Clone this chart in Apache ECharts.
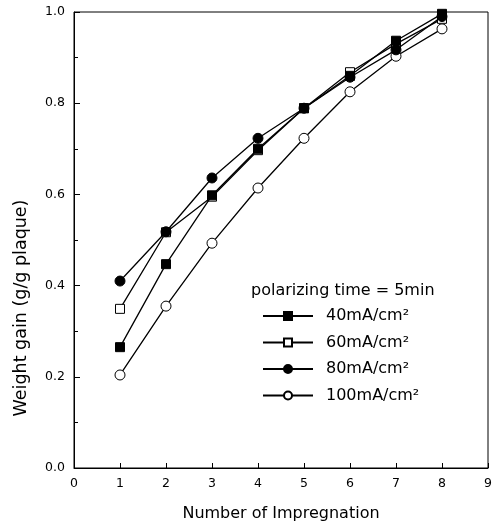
<!DOCTYPE html>
<html>
<head>
<meta charset="utf-8">
<script src="https://cdn.jsdelivr.net/npm/echarts@6/dist/echarts.min.js"></script>
<style>
  html, body { margin: 0; padding: 0; background: #fff; }
  #chart { width: 494px; height: 524px; }
</style>
</head>
<body>
<div id="chart"></div>
<script>
// impregnation count (x)
const impregnation = [1, 2, 3, 4, 5, 6, 7, 8];
// weight gain (g/g plaque) per current density
const gain40 = [0.265, 0.447, 0.598, 0.700, 0.789, 0.860, 0.937, 0.996];
const gain60 = [0.349, 0.517, 0.595, 0.697, 0.789, 0.868, 0.930, 0.985];
const gain80 = [0.410, 0.518, 0.636, 0.723, 0.789, 0.857, 0.917, 0.990];
const gain100 = [0.204, 0.355, 0.493, 0.614, 0.723, 0.825, 0.903, 0.963];
const seriesNames = ['40mA/cm²', '60mA/cm²', '80mA/cm²', '100mA/cm²'];

const font = 'DejaVu Sans, Liberation Sans, sans-serif';

function pairs(arr) {
  return impregnation.map((x, i) => [x, arr[i]]);
}

function makeSeries(name, data, symbol, filled) {
  return {
    name: name,
    type: 'line',
    data: pairs(data),
    symbol: symbol,
    symbolSize: symbol === 'rect' ? 9 : 10,
    showSymbol: true,
    lineStyle: { color: '#000', width: 1.3 },
    itemStyle: {
      color: filled ? '#000' : '#fff',
      borderColor: '#000',
      borderWidth: 1
    },
    emphasis: { disabled: true },
    z: filled ? 3 : 2
  };
}

let myChart = echarts.init(document.getElementById('chart'), null, { renderer: 'canvas' });

let option = {
  animation: false,
  textStyle: { fontFamily: font },
  title: {
    text: 'polarizing time = 5min',
    left: 246,
    top: 278,
    textStyle: { fontSize: 16, fontWeight: 'normal', color: '#000', fontFamily: font }
  },
  legend: {
    orient: 'vertical',
    left: 262,
    top: 308,
    padding: 0,
    itemWidth: 50,
    itemHeight: 10,
    itemGap: 10.5,
    textStyle: { fontSize: 16, color: '#000', fontFamily: font, padding: [0, 0, 0, 8] },
    data: seriesNames
  },
  grid: {
    left: 74,
    right: 6,
    top: 12,
    bottom: 56,
    outerBoundsMode: 'none',
    show: true,
    borderColor: '#000',
    borderWidth: 1
  },
  xAxis: {
    type: 'value',
    min: 0,
    max: 9,
    interval: 1,
    name: 'Number of Impregnation',
    nameLocation: 'middle',
    nameGap: 38,
    nameTextStyle: { fontSize: 16, color: '#000', fontFamily: font },
    axisLine: { lineStyle: { color: '#000', width: 1 } },
    axisTick: { inside: true, length: 5, lineStyle: { color: '#000' } },
    axisLabel: { fontSize: 12.5, color: '#000', margin: 9 },
    splitLine: { show: false }
  },
  yAxis: {
    type: 'value',
    min: 0,
    max: 1,
    interval: 0.2,
    name: 'Weight gain (g/g plaque)',
    nameLocation: 'middle',
    nameGap: 44,
    // label sits below the axis centre in the original
    nameTextStyle: { fontSize: 17.5, color: '#000', fontFamily: font, padding: [0, 136, 0, 0] },
    axisLine: { lineStyle: { color: '#000', width: 1 } },
    axisTick: { inside: true, length: 6, lineStyle: { color: '#000' } },
    minorTick: { show: true, splitNumber: 2, length: 4, lineStyle: { color: '#000' } },
    axisLabel: {
      fontSize: 12.5,
      color: '#000',
      margin: 9,
      formatter: v => v.toFixed(1)
    },
    splitLine: { show: false }
  },
  series: [
    makeSeries(seriesNames[0], gain40, 'rect', true),
    makeSeries(seriesNames[1], gain60, 'rect', false),
    makeSeries(seriesNames[2], gain80, 'circle', true),
    makeSeries(seriesNames[3], gain100, 'circle', false)
  ]
};

myChart.setOption(option);
</script>
</body>
</html>
